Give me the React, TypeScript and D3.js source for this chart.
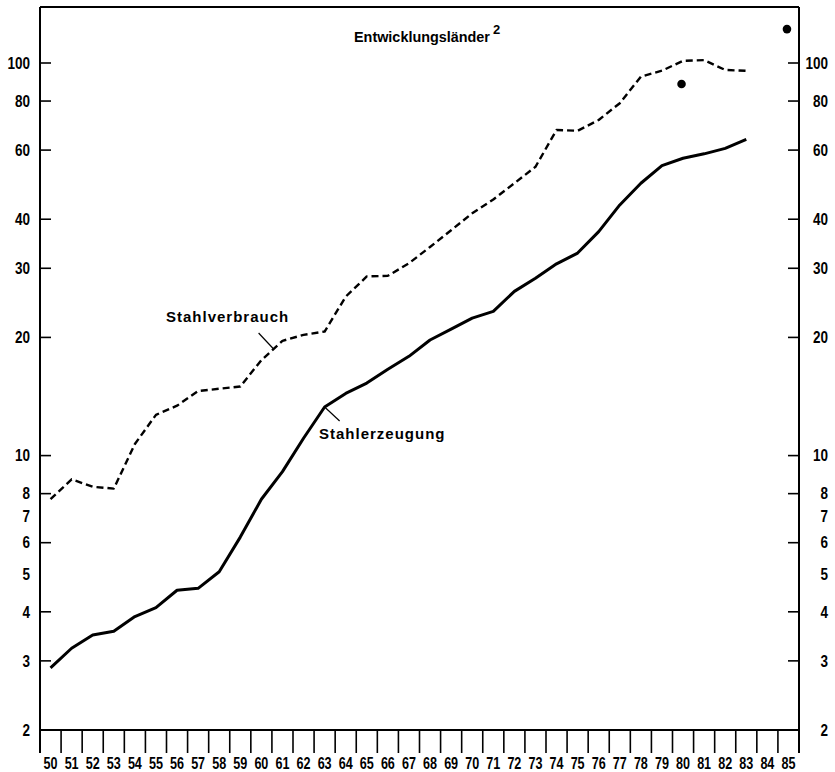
import React from "react";
import * as d3 from "d3";

const years = ["50","51","52","53","54","55","56","57","58","59","60","61","62","63","64","65","66","67","68","69","70","71","72","73","74","75","76","77","78","79","80","81","82","83","84","85"];
const dataYears = ["50","51","52","53","54","55","56","57","58","59","60","61","62","63","64","65","66","67","68","69","70","71","72","73","74","75","76","77","78","79","80","81","82","83"];
const production = [2.88,3.23,3.49,3.57,3.89,4.10,4.54,4.59,5.06,6.2,7.74,9.1,11.07,13.3,14.4,15.3,16.6,17.9,19.7,21.0,22.4,23.3,26.2,28.3,30.8,32.8,37.2,43.5,49.4,54.8,57.2,58.7,60.6,63.9];
const consumption = [7.75,8.70,8.33,8.24,10.7,12.7,13.4,14.6,14.8,15.0,17.5,19.6,20.3,20.7,25.4,28.6,28.7,30.9,34.0,37.5,41.4,44.9,49.4,54.4,67.5,67.2,71.6,79.0,92.3,95.6,101.3,101.7,96.0,95.5];
const forecastYears = ["80","85"];
const forecastValues = [88.4,122];
const tickMarkValues = [3,4,6,8,10,20,30,40,60,80,100];
const tickLabelValues = [2,3,4,5,6,7,8,10,20,30,40,60,80,100];

const FONT = "'Liberation Sans', Arial, sans-serif";

export default function App() {
  const left = 40, right = 799, bottom = 730, top = 7;
  const x = d3.scaleBand<string>().domain(years).range([left, right]).paddingInner(0).paddingOuter(0);
  const y = d3.scaleLog().domain([2, 100]).range([bottom, 63]);
  const cx = (yr: string) => (x(yr) as number) + x.bandwidth() / 2;

  const line = d3.line<number>()
    .x((_, i) => cx(dataYears[i]))
    .y((d) => y(d));

  const prodPath = line(production) || "";
  const consPath = line(consumption) || "";

  const pAnchorX = cx("63"), pAnchorY = y(production[13]);
  const f = 0.58;
  const cAnchorX = cx("60") + f * (cx("61") - cx("60"));
  const cAnchorY = y(consumption[10]) + f * (y(consumption[11]) - y(consumption[10]));

  const boundaries = years.map((yr) => x(yr) as number).concat([right]);

  return (
    <svg width={835} height={772} style={{ position: "absolute", left: 0, top: 0, background: "#fff" }} fontFamily={FONT}>
      <rect x={0} y={0} width={835} height={772} fill="#fff" />
      <line x1={left} x2={right} y1={top} y2={top} stroke="#000" strokeWidth={2} />
      <line x1={left} x2={left} y1={top} y2={753} stroke="#000" strokeWidth={2} />
      <line x1={right} x2={right} y1={top} y2={753} stroke="#000" strokeWidth={2} />
      <line x1={left} x2={right} y1={bottom} y2={bottom} stroke="#000" strokeWidth={2} />
      {boundaries.map((bx, i) => (
        <line key={"xt" + i} x1={bx} x2={bx} y1={bottom} y2={753} stroke="#000" strokeWidth={1.6} />
      ))}
      {years.map((yr) => (
        <text key={"xl" + yr} x={cx(yr)} y={769} textAnchor="middle" fontSize={17} fontWeight="bold"
          textLength={14} lengthAdjust="spacingAndGlyphs" fill="#000">{yr}</text>
      ))}
      {tickMarkValues.map((v) => (
        <g key={"yt" + v}>
          <line x1={left} x2={left + 11} y1={y(v)} y2={y(v)} stroke="#000" strokeWidth={1.6} />
          <line x1={right - 11} x2={right} y1={y(v)} y2={y(v)} stroke="#000" strokeWidth={1.6} />
        </g>
      ))}
      {tickLabelValues.map((v) => (
        <g key={"yl" + v}>
          <text x={30} y={y(v)} dy="0.36em" textAnchor="end" fontSize={16} fontWeight="bold" fill="#000"
            textLength={String(v).length * 7.5} lengthAdjust="spacingAndGlyphs">{v}</text>
          <text x={828} y={y(v)} dy="0.36em" textAnchor="end" fontSize={16} fontWeight="bold" fill="#000"
            textLength={String(v).length * 7.5} lengthAdjust="spacingAndGlyphs">{v}</text>
        </g>
      ))}
      <path d={consPath} fill="none" stroke="#000" strokeWidth={2.4} strokeDasharray="7,4" strokeLinejoin="round" />
      <path d={prodPath} fill="none" stroke="#000" strokeWidth={3} strokeLinejoin="round" />
      {forecastYears.map((yr, i) => (
        <circle key={"f" + yr} cx={cx(yr) - 1.5} cy={y(forecastValues[i])} r={4.3} fill="#000" />
      ))}
      <line x1={cAnchorX} y1={cAnchorY} x2={cAnchorX - 15} y2={cAnchorY - 16} stroke="#000" strokeWidth={1.2} />
      <line x1={pAnchorX} y1={pAnchorY} x2={pAnchorX + 15} y2={pAnchorY + 14} stroke="#000" strokeWidth={1.2} />
      <text x={166} y={322} fontSize={15} fontWeight="bold" letterSpacing={1} fill="#000">Stahlverbrauch</text>
      <text x={319} y={439} fontSize={15} fontWeight="bold" letterSpacing={1} fill="#000">Stahlerzeugung</text>
      <text x={354} y={42} fontSize={14.4} fontWeight="bold" fill="#000">Entwicklungsländer</text>
      <text x={493} y={34} fontSize={13} fontWeight="bold" fill="#000">2</text>
    </svg>
  );
}
